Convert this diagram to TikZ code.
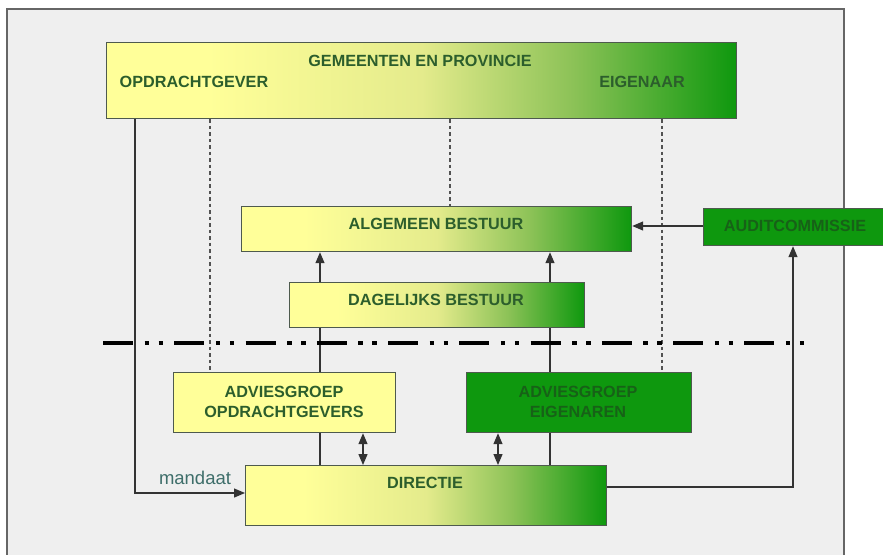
\documentclass[tikz,border=0pt]{standalone}
\usepackage{fontspec}
\setmainfont{Liberation Sans}
\usetikzlibrary{arrows.meta,calc}
\definecolor{ylw}{HTML}{FFFF99}
\definecolor{ymid}{HTML}{E4EB8C}
\definecolor{gmid}{HTML}{8CC257}
\definecolor{grn}{HTML}{0E980E}
\definecolor{txtg}{HTML}{2C5E2C}
\definecolor{txtdg}{HTML}{176117}
\definecolor{lncol}{HTML}{333333}
\definecolor{bord}{HTML}{4E5A4E}
\definecolor{panel}{HTML}{EFEFEF}
\definecolor{mandc}{HTML}{3E6E6A}
\pgfdeclarehorizontalshading{yg}{100bp}{color(0bp)=(ylw); color(25bp)=(ylw); color(33bp)=(ylw); color(50bp)=(ymid); color(62bp)=(gmid); color(75bp)=(grn); color(100bp)=(grn)}
\pgfdeclarelayer{bgpanel}
\pgfdeclarelayer{bglines}
\pgfsetlayers{bgpanel,bglines,main}
\tikzset{
  box/.style={draw=bord, line width=1.2pt, inner sep=0pt, anchor=north west},
  gradbox/.style={box, shading=yg},
  ylwbox/.style={box, fill=ylw},
  grnbox/.style={box, fill=grn},
  lbl/.style={font=\fontsize{16.2}{20.5}\selectfont\bfseries, text=txtg, align=center, inner sep=0pt},
  lbldark/.style={lbl, text=txtdg},
  conn/.style={draw=lncol, line width=1.3pt},
  arr/.style={conn, -{Triangle[length=11pt,width=9pt]}},
  darr/.style={conn, {Triangle[length=11pt,width=9pt]}-{Triangle[length=11pt,width=9pt]}},
  dotline/.style={draw=lncol!85, line width=1.2pt, dash pattern=on 3.5pt off 3pt},
  sepline/.style={draw=black, line width=4pt, dash pattern=on 30pt off 11.5pt on 4.5pt off 9.5pt on 4.5pt off 11.25pt}
}
\begin{document}
\begin{tikzpicture}[x=1pt,y=-1pt]
\useasboundingbox (0,0) rectangle (883,554);
\begin{pgfonlayer}{bgpanel}
\fill[white] (0,0) rectangle (883,554);
\draw[fill=panel, draw=gray!80!black, line width=1.2pt] (7,560) -- (7,9) -- (844,9) -- (844,560);
\end{pgfonlayer}

% boxes
\path
  node[gradbox, minimum width=630pt, minimum height=76pt] (top) at (106,42) {}
  node[gradbox, minimum width=390pt, minimum height=45pt] (ab) at (241,206) {}
  node[grnbox, minimum width=200pt, minimum height=37pt] (audit) at (703,208) {}
  node[gradbox, minimum width=295pt, minimum height=45pt] (db) at (289,282) {}
  node[ylwbox, minimum width=222pt, minimum height=60pt] (ago) at (173,372) {}
  node[grnbox, minimum width=225pt, minimum height=60pt] (age) at (466,372) {}
  node[gradbox, minimum width=361pt, minimum height=60pt] (dir) at (245,465) {};

% texts
\node[lbl] (tGem) at (420,61) {GEMEENTEN EN PROVINCIE};
\node[lbl] (tOpd) at (194,82) {OPDRACHTGEVER};
\node[lbl] (tEig) at (642,82) {EIGENAAR};
\node[lbl] (tAb) at (436,224) {ALGEMEEN BESTUUR};
\node[lbldark] (tAud) at (795,226) {AUDITCOMMISSIE};
\node[lbl] (tDb) at (436,300) {DAGELIJKS BESTUUR};
\node[lbl] (tAgo) at (284,402) {ADVIESGROEP\\OPDRACHTGEVERS};
\node[lbldark] (tAge) at (578,402) {ADVIESGROEP\\EIGENAREN};
\node[lbl] (tDir) at (425,483) {DIRECTIE};
\node[font=\fontsize{18.5}{20}\selectfont, text=mandc, inner sep=0pt] (tMan) at (195,478) {mandaat};

% helper coordinates
\coordinate (x135) at (135,0);
\coordinate (x210) at (210,0);
\coordinate (x320) at (320,0);
\coordinate (x363) at (363,0);
\coordinate (x450) at (450,0);
\coordinate (x498) at (498,0);
\coordinate (x550) at (550,0);
\coordinate (x662) at (662,0);
\coordinate (x793) at (793,0);
\coordinate (y226) at (0,226);
\coordinate (y487) at (0,487);
\coordinate (y493) at (0,493);
\coordinate (sepL) at (103,343);
\coordinate (sepR) at (806,343);

% connectors behind boxes
\begin{pgfonlayer}{bglines}
\draw[arr] (top.south -| x135) |- (dir.west |- y493);
\draw[dotline] (top.south -| x210) -- (ago.north -| x210);
\draw[dotline] (top.south -| x450) -- (ab.north -| x450);
\draw[dotline] (top.south -| x662) -- (age.north -| x662);
\draw[arr] (dir.north -| x320) -- (ab.south -| x320);
\draw[arr] (dir.north -| x550) -- (ab.south -| x550);
\draw[darr] (ago.south -| x363) -- (dir.north -| x363);
\draw[darr] (age.south -| x498) -- (dir.north -| x498);
\draw[arr] (audit.west |- y226) -- (ab.east |- y226);
\draw[arr] (dir.east |- y487) -| (audit.south -| x793);
\draw[sepline] (sepL) -- (sepR);
\end{pgfonlayer}
\end{tikzpicture}
\end{document}
